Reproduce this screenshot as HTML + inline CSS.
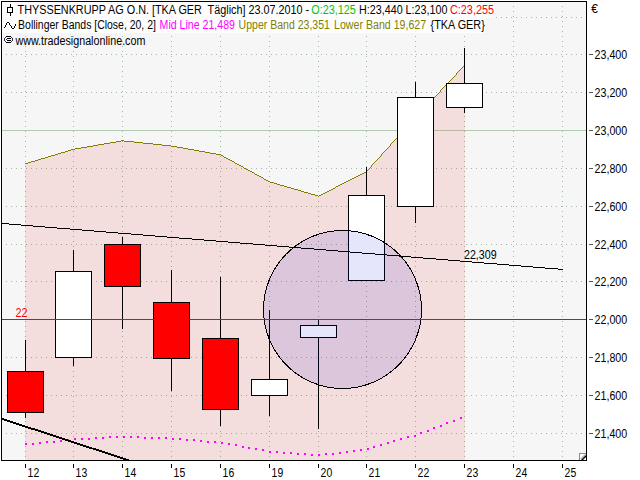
<!DOCTYPE html>
<html><head><meta charset="utf-8"><title>chart</title>
<style>html,body{margin:0;padding:0;background:#fff;overflow:hidden}svg{display:block}text{font-family:"Liberation Sans",sans-serif;font-size:12.5px}</style>
</head><body>
<svg width="640" height="480" viewBox="0 0 640 480">
<rect x="0" y="0" width="640" height="480" fill="#fff"/>
<rect x="2" y="2" width="584" height="458" fill="#f6f6f6" shape-rendering="crispEdges"/>
<g shape-rendering="crispEdges">
<g stroke="#a0bca0" stroke-width="1" stroke-dasharray="1 4" fill="none">
<line x1="6" y1="17.5" x2="586" y2="17.5"/>
<line x1="6" y1="54.5" x2="586" y2="54.5"/>
<line x1="6" y1="92.5" x2="586" y2="92.5"/>
<line x1="6" y1="130.5" x2="586" y2="130.5"/>
<line x1="6" y1="168.5" x2="586" y2="168.5"/>
<line x1="6" y1="206.5" x2="586" y2="206.5"/>
<line x1="6" y1="244.5" x2="586" y2="244.5"/>
<line x1="6" y1="281.5" x2="586" y2="281.5"/>
<line x1="6" y1="319.5" x2="586" y2="319.5"/>
<line x1="6" y1="357.5" x2="586" y2="357.5"/>
<line x1="6" y1="395.5" x2="586" y2="395.5"/>
<line x1="6" y1="433.5" x2="586" y2="433.5"/>
<line x1="25.5" y1="6" x2="25.5" y2="460"/>
<line x1="73.5" y1="6" x2="73.5" y2="460"/>
<line x1="122.5" y1="6" x2="122.5" y2="460"/>
<line x1="171.5" y1="6" x2="171.5" y2="460"/>
<line x1="220.5" y1="6" x2="220.5" y2="460"/>
<line x1="269.5" y1="6" x2="269.5" y2="460"/>
<line x1="318.5" y1="6" x2="318.5" y2="460"/>
<line x1="366.5" y1="6" x2="366.5" y2="460"/>
<line x1="415.5" y1="6" x2="415.5" y2="460"/>
<line x1="464.5" y1="6" x2="464.5" y2="460"/>
<line x1="513.5" y1="6" x2="513.5" y2="460"/>
<line x1="562.5" y1="6" x2="562.5" y2="460"/>
</g>
<rect x="2" y="2" width="492" height="16" fill="#fff" fill-opacity="0.85"/>
<rect x="2" y="18" width="483" height="15" fill="#fff" fill-opacity="0.85"/>
<rect x="2" y="130" width="584" height="1" fill="#b0ccb0"/>
</g>
<polygon points="25,460 25,163.8 73,149.3 122,140.8 171,146.0 220,154.8 269,181.8 318,196.1 366,171.8 415,117.9 464,65.9 465,65.9 465,460" fill="#e60000" fill-opacity="0.1" shape-rendering="crispEdges"/>
<path d="M464,65h1v1h-1zM463,66h1v1h-1zM462,67h1v1h-1zM461,68h1v1h-1zM460,69h1v1h-1zM459,70h1v1h-1zM458,71h1v1h-1zM457,72h1v1h-1zM456,73h1v1h-1zM456,74h1v1h-1zM455,75h1v1h-1zM454,76h1v1h-1zM453,77h1v1h-1zM452,78h1v1h-1zM451,79h1v1h-1zM450,80h1v1h-1zM449,81h1v1h-1zM448,82h1v1h-1zM447,83h1v1h-1zM446,84h1v1h-1zM445,85h1v1h-1zM444,86h1v1h-1zM443,87h1v1h-1zM442,88h1v1h-1zM441,89h1v1h-1zM440,90h1v1h-1zM440,91h1v1h-1zM439,92h1v1h-1zM438,93h1v1h-1zM437,94h1v1h-1zM436,95h1v1h-1zM435,96h1v1h-1zM434,97h1v1h-1zM433,98h1v1h-1zM432,99h1v1h-1zM431,100h1v1h-1zM430,101h1v1h-1zM429,102h1v1h-1zM428,103h1v1h-1zM427,104h1v1h-1zM426,105h1v1h-1zM425,106h1v1h-1zM424,107h1v1h-1zM423,108h1v1h-1zM423,109h1v1h-1zM422,110h1v1h-1zM421,111h1v1h-1zM420,112h1v1h-1zM419,113h1v1h-1zM418,114h1v1h-1zM417,115h1v1h-1zM416,116h1v1h-1zM415,117h1v1h-1zM414,118h1v1h-1zM413,119h1v1h-1zM412,120h1v1h-1zM411,121h1v1h-1zM410,122h1v1h-1zM410,123h1v1h-1zM409,124h1v1h-1zM408,125h1v1h-1zM407,126h1v1h-1zM406,127h1v1h-1zM405,128h1v1h-1zM404,129h1v1h-1zM403,130h1v1h-1zM402,131h1v1h-1zM401,132h1v1h-1zM400,133h1v1h-1zM400,134h1v1h-1zM399,135h1v1h-1zM398,136h1v1h-1zM397,137h1v1h-1zM396,138h1v1h-1zM395,139h1v1h-1zM121,140h3v1h-3zM394,140h1v1h-1zM116,141h5v1h-5zM124,141h10v1h-10zM393,141h1v1h-1zM110,142h6v1h-6zM134,142h9v1h-9zM392,142h1v1h-1zM104,143h6v1h-6zM143,143h10v1h-10zM391,143h1v1h-1zM98,144h6v1h-6zM153,144h9v1h-9zM390,144h1v1h-1zM93,145h5v1h-5zM162,145h9v1h-9zM390,145h1v1h-1zM87,146h6v1h-6zM171,146h6v1h-6zM389,146h1v1h-1zM81,147h6v1h-6zM177,147h6v1h-6zM388,147h1v1h-1zM75,148h6v1h-6zM183,148h5v1h-5zM387,148h1v1h-1zM71,149h4v1h-4zM188,149h6v1h-6zM386,149h1v1h-1zM68,150h3v1h-3zM194,150h5v1h-5zM385,150h1v1h-1zM65,151h3v1h-3zM199,151h6v1h-6zM384,151h1v1h-1zM61,152h4v1h-4zM205,152h5v1h-5zM383,152h1v1h-1zM58,153h3v1h-3zM210,153h6v1h-6zM382,153h1v1h-1zM55,154h3v1h-3zM216,154h5v1h-5zM381,154h1v1h-1zM51,155h4v1h-4zM221,155h2v1h-2zM381,155h1v1h-1zM48,156h3v1h-3zM223,156h1v1h-1zM380,156h1v1h-1zM45,157h3v1h-3zM224,157h2v1h-2zM379,157h1v1h-1zM41,158h4v1h-4zM226,158h2v1h-2zM378,158h1v1h-1zM38,159h3v1h-3zM228,159h2v1h-2zM377,159h1v1h-1zM35,160h3v1h-3zM230,160h2v1h-2zM376,160h1v1h-1zM31,161h4v1h-4zM232,161h2v1h-2zM375,161h1v1h-1zM28,162h3v1h-3zM234,162h1v1h-1zM374,162h1v1h-1zM25,163h3v1h-3zM235,163h2v1h-2zM373,163h1v1h-1zM237,164h2v1h-2zM372,164h1v1h-1zM239,165h2v1h-2zM371,165h1v1h-1zM241,166h2v1h-2zM371,166h1v1h-1zM243,167h1v1h-1zM370,167h1v1h-1zM244,168h2v1h-2zM369,168h1v1h-1zM246,169h2v1h-2zM368,169h1v1h-1zM248,170h2v1h-2zM367,170h1v1h-1zM250,171h2v1h-2zM366,171h1v1h-1zM252,172h2v1h-2zM364,172h2v1h-2zM254,173h1v1h-1zM362,173h2v1h-2zM255,174h2v1h-2zM360,174h2v1h-2zM257,175h2v1h-2zM358,175h2v1h-2zM259,176h2v1h-2zM356,176h2v1h-2zM261,177h2v1h-2zM354,177h2v1h-2zM263,178h1v1h-1zM352,178h2v1h-2zM264,179h2v1h-2zM350,179h2v1h-2zM266,180h2v1h-2zM348,180h2v1h-2zM268,181h2v1h-2zM346,181h2v1h-2zM270,182h4v1h-4zM344,182h2v1h-2zM274,183h3v1h-3zM342,183h2v1h-2zM277,184h3v1h-3zM340,184h2v1h-2zM280,185h4v1h-4zM338,185h2v1h-2zM284,186h3v1h-3zM336,186h2v1h-2zM287,187h4v1h-4zM335,187h1v1h-1zM291,188h3v1h-3zM333,188h2v1h-2zM294,189h4v1h-4zM331,189h2v1h-2zM298,190h3v1h-3zM329,190h2v1h-2zM301,191h3v1h-3zM327,191h2v1h-2zM304,192h4v1h-4zM325,192h2v1h-2zM308,193h3v1h-3zM323,193h2v1h-2zM311,194h4v1h-4zM321,194h2v1h-2zM315,195h3v1h-3zM319,195h2v1h-2zM318,196h1v1h-1z" fill="#808000" shape-rendering="crispEdges"/>
<path d="M25,443h2v2h-2zM32,443h2v2h-2zM39,442h2v2h-2zM46,441h2v2h-2zM53,441h2v2h-2zM60,440h2v2h-2zM67,439h2v2h-2zM74,438h2v2h-2zM81,438h2v2h-2zM88,438h2v2h-2zM95,437h2v2h-2zM102,437h2v2h-2zM109,436h2v2h-2zM116,436h2v2h-2zM123,436h2v2h-2zM130,436h2v2h-2zM137,436h2v2h-2zM144,437h2v2h-2zM151,437h2v2h-2zM158,437h2v2h-2zM165,437h2v2h-2zM172,438h2v2h-2zM179,438h2v2h-2zM186,439h2v2h-2zM193,439h2v2h-2zM200,440h2v2h-2zM207,441h2v2h-2zM214,441h2v2h-2zM221,442h2v2h-2zM228,443h2v2h-2zM235,444h2v2h-2zM242,446h2v2h-2zM248,447h2v2h-2zM255,448h2v2h-2zM262,449h2v2h-2zM269,451h2v2h-2zM276,451h2v2h-2zM283,452h2v2h-2zM290,452h2v2h-2zM297,453h2v2h-2zM304,453h2v2h-2zM311,454h2v2h-2zM318,454h2v2h-2zM325,453h2v2h-2zM332,453h2v2h-2zM339,452h2v2h-2zM346,451h2v2h-2zM353,450h2v2h-2zM360,449h2v2h-2zM367,448h2v2h-2zM373,446h2v2h-2zM380,444h2v2h-2zM387,442h2v2h-2zM393,440h2v2h-2zM400,438h2v2h-2zM407,436h2v2h-2zM414,435h2v2h-2zM420,432h2v2h-2zM427,430h2v2h-2zM433,427h2v2h-2zM440,425h2v2h-2zM446,422h2v2h-2zM453,420h2v2h-2zM460,417h2v2h-2z" fill="#ff00ff" shape-rendering="crispEdges"/>
<g shape-rendering="crispEdges">
<rect x="25" y="340" width="1" height="78" fill="#000"/>
<rect x="7.5" y="371.5" width="36" height="41" fill="#ff0000" stroke="#000" stroke-width="1"/>
<rect x="73" y="250" width="1" height="116" fill="#000"/>
<rect x="55.5" y="271.5" width="36" height="86" fill="#ffffff" stroke="#000" stroke-width="1"/>
<rect x="122" y="237" width="1" height="92" fill="#000"/>
<rect x="104.5" y="244.5" width="36" height="42" fill="#ff0000" stroke="#000" stroke-width="1"/>
<rect x="171" y="270" width="1" height="121" fill="#000"/>
<rect x="153.5" y="302.5" width="36" height="56" fill="#ff0000" stroke="#000" stroke-width="1"/>
<rect x="220" y="277" width="1" height="149" fill="#000"/>
<rect x="202.5" y="338.5" width="36" height="71" fill="#ff0000" stroke="#000" stroke-width="1"/>
<rect x="269" y="310" width="1" height="106" fill="#000"/>
<rect x="251.5" y="379.5" width="36" height="16" fill="#ffffff" stroke="#000" stroke-width="1"/>
<rect x="318" y="320" width="1" height="109" fill="#000"/>
<rect x="300.5" y="325.5" width="36" height="12" fill="#ffffff" stroke="#000" stroke-width="1"/>
<rect x="366" y="167" width="1" height="114" fill="#000"/>
<rect x="348.5" y="195.5" width="36" height="85" fill="#ffffff" stroke="#000" stroke-width="1"/>
<rect x="415" y="82" width="1" height="141" fill="#000"/>
<rect x="397.5" y="97.5" width="36" height="109" fill="#ffffff" stroke="#000" stroke-width="1"/>
<rect x="464" y="48" width="1" height="65" fill="#000"/>
<rect x="446.5" y="83.5" width="36" height="24" fill="#ffffff" stroke="#000" stroke-width="1"/>
</g>
<path d="M2,223h7v1h-7zM9,224h12v1h-12zM21,225h12v1h-12zM33,226h12v1h-12zM45,227h12v1h-12zM57,228h13v1h-13zM70,229h12v1h-12zM82,230h12v1h-12zM94,231h12v1h-12zM106,232h12v1h-12zM118,233h13v1h-13zM131,234h12v1h-12zM143,235h12v1h-12zM155,236h12v1h-12zM167,237h12v1h-12zM179,238h13v1h-13zM192,239h12v1h-12zM204,240h12v1h-12zM216,241h12v1h-12zM228,242h12v1h-12zM240,243h13v1h-13zM253,244h12v1h-12zM265,245h12v1h-12zM277,246h12v1h-12zM289,247h12v1h-12zM301,248h13v1h-13zM314,249h12v1h-12zM326,250h12v1h-12zM338,251h12v1h-12zM350,252h12v1h-12zM362,253h13v1h-13zM375,254h12v1h-12zM387,255h12v1h-12zM399,256h12v1h-12zM411,257h12v1h-12zM423,258h13v1h-13zM436,259h12v1h-12zM448,260h12v1h-12zM460,261h12v1h-12zM472,262h12v1h-12zM484,263h13v1h-13zM497,264h12v1h-12zM509,265h12v1h-12zM521,266h12v1h-12zM533,267h12v1h-12zM545,268h13v1h-13zM558,269h5v1h-5z" fill="#000" shape-rendering="crispEdges"/>
<path d="M2,418h2v1h-2zM4,419h3v1h-3zM7,420h3v1h-3zM10,421h3v1h-3zM13,422h3v1h-3zM16,423h3v1h-3zM19,424h3v1h-3zM22,425h3v1h-3zM25,426h3v1h-3zM28,427h3v1h-3zM31,428h4v1h-4zM35,429h3v1h-3zM38,430h3v1h-3zM41,431h3v1h-3zM44,432h3v1h-3zM47,433h3v1h-3zM50,434h3v1h-3zM53,435h3v1h-3zM56,436h3v1h-3zM59,437h3v1h-3zM62,438h3v1h-3zM65,439h3v1h-3zM68,440h3v1h-3zM71,441h3v1h-3zM74,442h3v1h-3zM77,443h3v1h-3zM80,444h3v1h-3zM83,445h3v1h-3zM86,446h3v1h-3zM89,447h3v1h-3zM92,448h4v1h-4zM96,449h3v1h-3zM99,450h3v1h-3zM102,451h3v1h-3zM105,452h3v1h-3zM108,453h3v1h-3zM111,454h3v1h-3zM114,455h3v1h-3zM117,456h3v1h-3zM120,457h3v1h-3zM123,458h3v1h-3zM126,459h3v1h-3z" fill="#000" shape-rendering="crispEdges"/>
<path d="M2,419h2v1h-2zM4,420h3v1h-3zM7,421h3v1h-3zM10,422h3v1h-3zM13,423h3v1h-3zM16,424h3v1h-3zM19,425h3v1h-3zM22,426h3v1h-3zM25,427h3v1h-3zM28,428h3v1h-3zM31,429h4v1h-4zM35,430h3v1h-3zM38,431h3v1h-3zM41,432h3v1h-3zM44,433h3v1h-3zM47,434h3v1h-3zM50,435h3v1h-3zM53,436h3v1h-3zM56,437h3v1h-3zM59,438h3v1h-3zM62,439h3v1h-3zM65,440h3v1h-3zM68,441h3v1h-3zM71,442h3v1h-3zM74,443h3v1h-3zM77,444h3v1h-3zM80,445h3v1h-3zM83,446h3v1h-3zM86,447h3v1h-3zM89,448h4v1h-4zM93,449h3v1h-3zM96,450h3v1h-3zM99,451h3v1h-3zM102,452h3v1h-3zM105,453h3v1h-3zM108,454h3v1h-3zM111,455h3v1h-3zM114,456h3v1h-3zM117,457h3v1h-3zM120,458h3v1h-3zM123,459h3v1h-3zM126,460h3v1h-3z" fill="#000" shape-rendering="crispEdges"/>
<circle cx="342.5" cy="309.5" r="79" fill="#0000d7" fill-opacity="0.1" stroke="none"/>
<circle cx="342.5" cy="309.5" r="79" fill="none" stroke="#000" stroke-width="1" shape-rendering="crispEdges"/>
<rect x="2" y="319" width="584" height="1" fill="#ff0000" shape-rendering="crispEdges"/>
<g shape-rendering="crispEdges" fill="#000">
<rect x="1" y="1" width="586" height="1"/>
<rect x="1" y="460" width="586" height="1"/>
<rect x="1" y="1" width="1" height="460"/>
<rect x="586" y="1" width="1" height="460"/>
<rect x="589" y="54" width="4" height="1" fill="#555"/>
<rect x="589" y="92" width="4" height="1" fill="#555"/>
<rect x="589" y="130" width="4" height="1" fill="#555"/>
<rect x="589" y="168" width="4" height="1" fill="#555"/>
<rect x="589" y="206" width="4" height="1" fill="#555"/>
<rect x="589" y="244" width="4" height="1" fill="#555"/>
<rect x="589" y="281" width="4" height="1" fill="#555"/>
<rect x="589" y="319" width="4" height="1" fill="#555"/>
<rect x="589" y="357" width="4" height="1" fill="#555"/>
<rect x="589" y="395" width="4" height="1" fill="#555"/>
<rect x="589" y="433" width="4" height="1" fill="#555"/>
<rect x="25" y="464" width="1" height="4"/>
<rect x="73" y="464" width="1" height="4"/>
<rect x="122" y="464" width="1" height="4"/>
<rect x="171" y="464" width="1" height="4"/>
<rect x="220" y="464" width="1" height="4"/>
<rect x="269" y="464" width="1" height="4"/>
<rect x="318" y="464" width="1" height="4"/>
<rect x="366" y="464" width="1" height="4"/>
<rect x="415" y="464" width="1" height="4"/>
<rect x="464" y="464" width="1" height="4"/>
<rect x="513" y="464" width="1" height="4"/>
<rect x="562" y="464" width="1" height="4"/>
<rect x="579" y="453" width="7" height="7" fill="#fff"/>
<rect x="579" y="453" width="7" height="1" fill="#8c8c8c"/>
<rect x="579" y="453" width="1" height="7" fill="#8c8c8c"/>
</g>
<line x1="580.6" y1="459.4" x2="585.4" y2="454.6" stroke="#bbb" stroke-width="1.6"/>
<line x1="581.8" y1="460.2" x2="586.2" y2="455.8" stroke="#000" stroke-width="1.3"/>
<text x="594.6" y="59" textLength="32.6" lengthAdjust="spacingAndGlyphs" xml:space="preserve">23,400</text>
<text x="594.6" y="97" textLength="32.6" lengthAdjust="spacingAndGlyphs" xml:space="preserve">23,200</text>
<text x="594.6" y="135" textLength="32.6" lengthAdjust="spacingAndGlyphs" xml:space="preserve">23,000</text>
<text x="594.6" y="173" textLength="32.6" lengthAdjust="spacingAndGlyphs" xml:space="preserve">22,800</text>
<text x="594.6" y="211" textLength="32.6" lengthAdjust="spacingAndGlyphs" xml:space="preserve">22,600</text>
<text x="594.6" y="249" textLength="32.6" lengthAdjust="spacingAndGlyphs" xml:space="preserve">22,400</text>
<text x="594.6" y="286" textLength="32.6" lengthAdjust="spacingAndGlyphs" xml:space="preserve">22,200</text>
<text x="594.6" y="324" textLength="32.6" lengthAdjust="spacingAndGlyphs" xml:space="preserve">22,000</text>
<text x="594.6" y="362" textLength="32.6" lengthAdjust="spacingAndGlyphs" xml:space="preserve">21,800</text>
<text x="594.6" y="400" textLength="32.6" lengthAdjust="spacingAndGlyphs" xml:space="preserve">21,600</text>
<text x="594.6" y="438" textLength="32.6" lengthAdjust="spacingAndGlyphs" xml:space="preserve">21,400</text>
<text x="27.6" y="477" textLength="11.6" lengthAdjust="spacingAndGlyphs" xml:space="preserve">12</text>
<text x="75.6" y="477" textLength="11.6" lengthAdjust="spacingAndGlyphs" xml:space="preserve">13</text>
<text x="124.6" y="477" textLength="11.6" lengthAdjust="spacingAndGlyphs" xml:space="preserve">14</text>
<text x="173.6" y="477" textLength="11.6" lengthAdjust="spacingAndGlyphs" xml:space="preserve">15</text>
<text x="222.6" y="477" textLength="11.6" lengthAdjust="spacingAndGlyphs" xml:space="preserve">16</text>
<text x="271.6" y="477" textLength="11.6" lengthAdjust="spacingAndGlyphs" xml:space="preserve">19</text>
<text x="320.6" y="477" textLength="11.6" lengthAdjust="spacingAndGlyphs" xml:space="preserve">20</text>
<text x="368.6" y="477" textLength="11.6" lengthAdjust="spacingAndGlyphs" xml:space="preserve">21</text>
<text x="417.6" y="477" textLength="11.6" lengthAdjust="spacingAndGlyphs" xml:space="preserve">22</text>
<text x="466.6" y="477" textLength="11.6" lengthAdjust="spacingAndGlyphs" xml:space="preserve">23</text>
<text x="515.6" y="477" textLength="11.6" lengthAdjust="spacingAndGlyphs" xml:space="preserve">24</text>
<text x="564.6" y="477" textLength="11.6" lengthAdjust="spacingAndGlyphs" xml:space="preserve">25</text>
<text x="591.2" y="13" textLength="6.6" lengthAdjust="spacingAndGlyphs" xml:space="preserve">€</text>
<text x="15.6" y="317" textLength="12" lengthAdjust="spacingAndGlyphs" fill="#ff0000" xml:space="preserve">22</text>
<text x="464" y="259" textLength="32.6" lengthAdjust="spacingAndGlyphs" xml:space="preserve">22,309</text>
<text x="17.6" y="14" textLength="291.6" lengthAdjust="spacingAndGlyphs" xml:space="preserve">THYSSENKRUPP AG O.N. [TKA GER  Täglich] 23.07.2010 -</text>
<text x="311.3" y="14" textLength="44.5" lengthAdjust="spacingAndGlyphs" fill="#00c800" xml:space="preserve">O:23,125</text>
<text x="359.1" y="14" textLength="88.3" lengthAdjust="spacingAndGlyphs" xml:space="preserve">H:23,440 L:23,100</text>
<text x="450" y="14" textLength="44" lengthAdjust="spacingAndGlyphs" fill="#ff0000" xml:space="preserve">C:23,255</text>
<text x="18.1" y="29" textLength="137.8" lengthAdjust="spacingAndGlyphs" xml:space="preserve">Bollinger Bands [Close, 20, 2]</text>
<text x="159.6" y="29" textLength="75.4" lengthAdjust="spacingAndGlyphs" fill="#ff00ff" xml:space="preserve">Mid Line 21,489</text>
<text x="238.6" y="29" textLength="91.3" lengthAdjust="spacingAndGlyphs" fill="#808000" xml:space="preserve">Upper Band 23,351</text>
<text x="334" y="29" textLength="92.2" lengthAdjust="spacingAndGlyphs" fill="#808000" xml:space="preserve">Lower Band 19,627</text>
<text x="430.6" y="29" textLength="54.2" lengthAdjust="spacingAndGlyphs" xml:space="preserve">{TKA GER}</text>
<text x="15.4" y="45" textLength="130" lengthAdjust="spacingAndGlyphs" xml:space="preserve">www.tradesignalonline.com</text>
<g shape-rendering="crispEdges">
<rect x="10" y="4" width="1" height="12" fill="#000"/>
<rect x="7.5" y="7.5" width="5" height="5" fill="#fff" stroke="#000" stroke-width="1"/>
</g>
<path d="M4,27h1v1h-1zM5,25h1v2h-1zM6,23h1v2h-1zM7,22h2v1h-2zM9,23h1v2h-1zM10,25h1v1h-1zM11,26h1v2h-1zM12,28h2v1h-2zM14,26h1v2h-1zM15,24h1v2h-1z" fill="#000" shape-rendering="crispEdges"/>
<path d="M6,36h5v1h-5zM6,42h5v1h-5zM7,38h4v1h-4zM7,40h4v1h-4z" fill="#000" shape-rendering="crispEdges"/>
<path d="M5,37h1v1h-1zM11,37h1v1h-1zM5,41h1v1h-1zM11,41h1v1h-1zM4,38h1v3h-1zM12,38h1v3h-1zM6,39h1v1h-1z" fill="#3a2a4a" shape-rendering="crispEdges"/>
</svg>
</body></html>
